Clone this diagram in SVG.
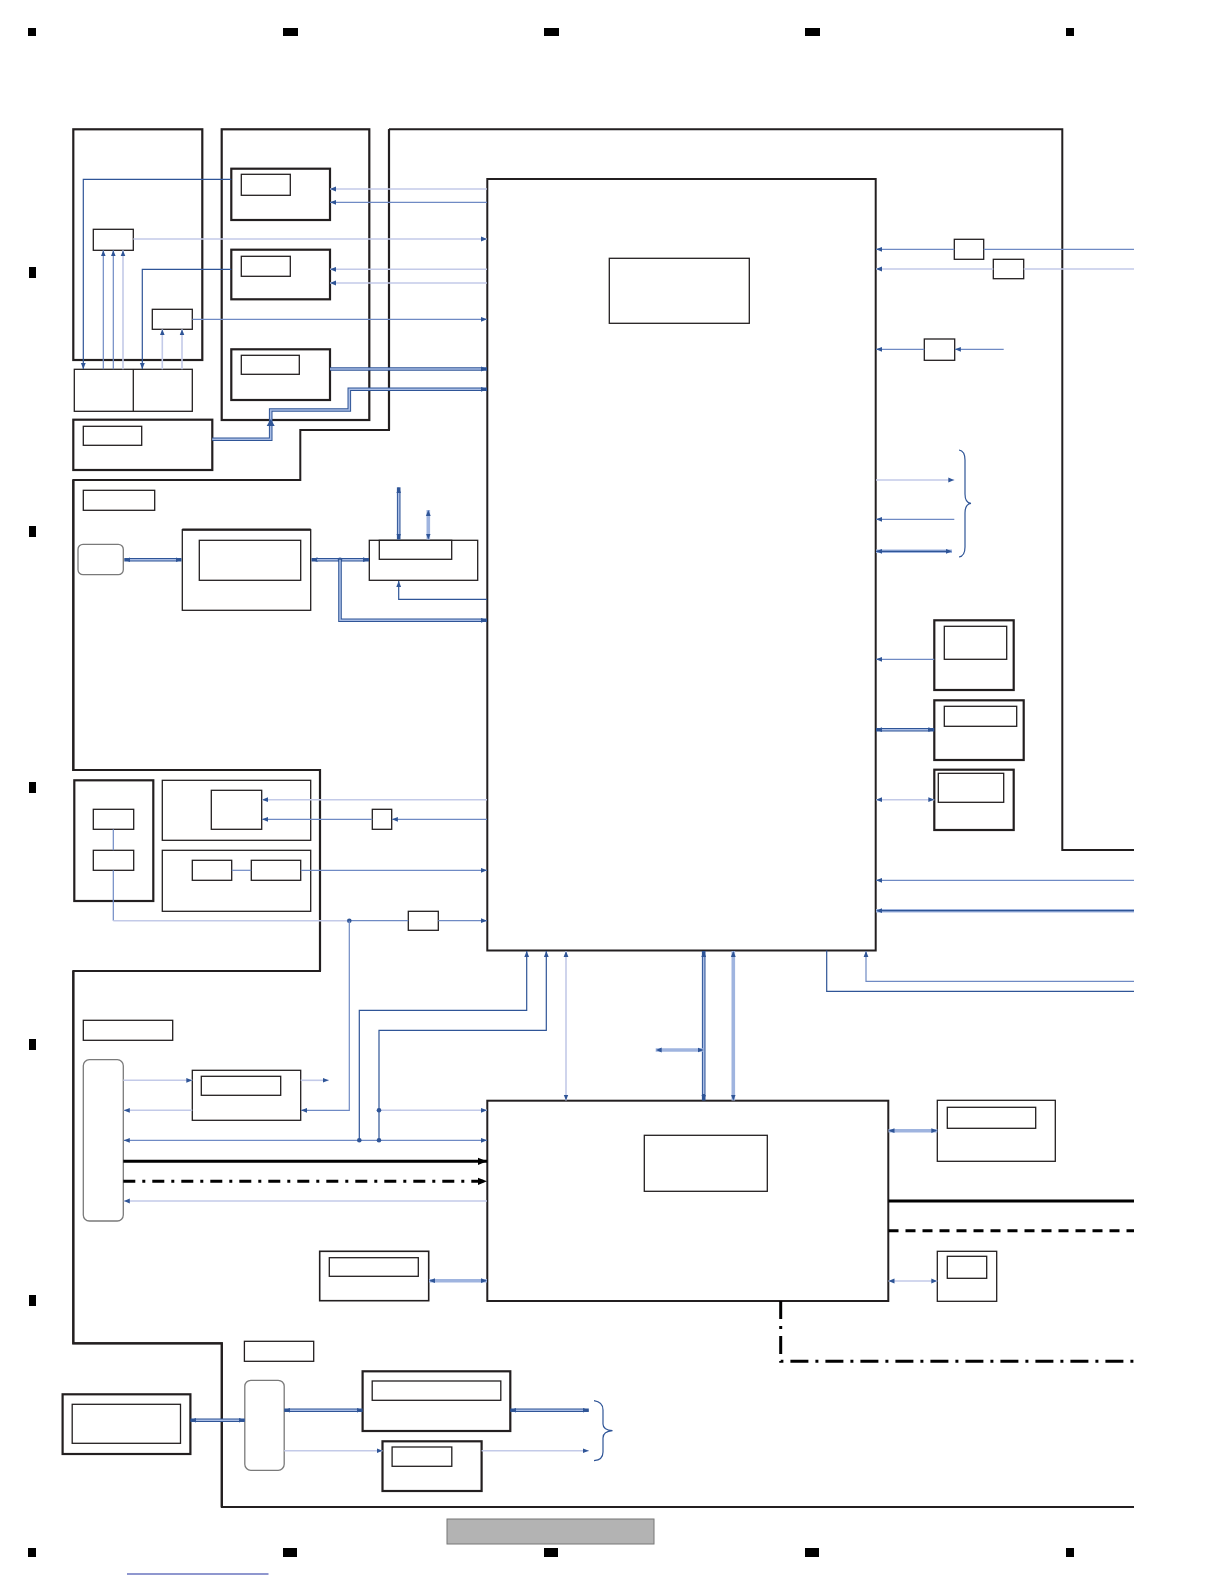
<svg xmlns="http://www.w3.org/2000/svg" width="1224" height="1584" viewBox="0 0 1224 1584">
<style>
.k{fill:none;stroke:#231f20;stroke-width:2.2}
.t{fill:none;stroke:#231f20;stroke-width:1.3}
.r{fill:none;stroke:#7a7a7a;stroke-width:1.3}
.o{fill:none;stroke:#231f20;stroke-width:2}
.d{fill:none;stroke:#2f5597;stroke-width:1.2}
.m{fill:none;stroke:#6f8ac4;stroke-width:1.2}
.l{fill:none;stroke:#c3cae8;stroke-width:1.6}
.w1{fill:none;stroke:#2f5597;stroke-width:3.6}
.w2{fill:none;stroke:#a9bde5;stroke-width:1.6}
.bk{fill:none;stroke:#000;stroke-width:3}
.mk{fill:#000}
.dot{fill:#2f5597}
.brace{fill:none;stroke:#2f5597;stroke-width:1.2}
</style>
<defs>
<marker id="a" viewBox="0 0 10 10" refX="10" refY="5" markerWidth="6" markerHeight="6" markerUnits="userSpaceOnUse" orient="auto-start-reverse"><path d="M0,1 L10,5 L0,9 z" fill="#2f5597"/></marker>
<marker id="ab" viewBox="0 0 10 10" refX="10" refY="5" markerWidth="9" markerHeight="9" markerUnits="userSpaceOnUse" orient="auto"><path d="M0,1 L10,5 L0,9 z" fill="#000"/></marker>
</defs>
<rect width="1224" height="1584" fill="#fff"/>

<g id="frame-marks">
<rect class="mk" x="28" y="28" width="8" height="8"/>
<rect class="mk" x="283" y="28" width="15" height="8"/>
<rect class="mk" x="544" y="28" width="15" height="8"/>
<rect class="mk" x="805" y="28" width="15" height="8"/>
<rect class="mk" x="1066" y="28" width="8" height="8"/>
<rect class="mk" x="29" y="267" width="7" height="11"/>
<rect class="mk" x="29" y="526" width="7" height="11"/>
<rect class="mk" x="29" y="782" width="7" height="11"/>
<rect class="mk" x="29" y="1039" width="7" height="11"/>
<rect class="mk" x="29" y="1295" width="7" height="11"/>
<rect class="mk" x="28" y="1548" width="8" height="9"/>
<rect class="mk" x="283" y="1548" width="14" height="9"/>
<rect class="mk" x="544" y="1548" width="14" height="9"/>
<rect class="mk" x="805" y="1548" width="14" height="9"/>
<rect class="mk" x="1066" y="1548" width="8" height="9"/>
<rect x="447" y="1519" width="207" height="25" fill="#b3b3b3" stroke="#777" stroke-width="1"/>
<line x1="127" y1="1574" x2="268.5" y2="1574" stroke="#2030a0" stroke-width="1.2"/>
</g>

<g id="outlines">
<path class="o" d="M389,129.3 H1062.3 V850 H1134"/>
<path class="o" d="M389,129.3 V430 H300.3 V480 H73.3 V770 H320 V971 H73.3 V1343.3 H221.8 V1507 H1134"/>
<path class="k" d="M389,129.3 V430 M73.3,480 V770 H320 V971 M73.3,971 V1343.3 H221.8 V1507"/>
</g>

<g id="node-a">
<rect class="k" x="73.3" y="129.3" width="129" height="230.7"/>
<rect class="t" x="93.3" y="229.3" width="40" height="21"/>
<rect class="t" x="152.3" y="309.3" width="40" height="20"/>
</g>
<g id="node-a-bottom">
<rect class="t" x="74.3" y="369.3" width="118" height="42"/>
<line class="t" x1="133.3" y1="369.3" x2="133.3" y2="411.3"/>
</g>
<g id="node-c">
<rect class="k" x="73.3" y="419.7" width="139" height="50.3"/>
<rect class="t" x="83.3" y="426.3" width="58.4" height="19"/>
</g>
<g id="node-b">
<rect class="k" x="221.7" y="129.3" width="147.6" height="290.7"/>
<rect class="k" x="231.3" y="168.7" width="98.7" height="51.3"/>
<rect class="t" x="241.3" y="174.3" width="49" height="21"/>
<rect class="k" x="231.3" y="249.7" width="98.7" height="49.6"/>
<rect class="t" x="241.3" y="256.3" width="49" height="20"/>
<rect class="k" x="231.3" y="349.3" width="98.7" height="50.7"/>
<rect class="t" x="241.3" y="355.3" width="58" height="19"/>
</g>

<g id="node-chip1">
<rect class="o" x="487.3" y="179" width="388.4" height="771.5"/>
<rect class="t" x="609.3" y="258.3" width="140" height="65"/>
</g>

<g id="node-d">
<rect class="t" x="83.3" y="490.3" width="71.4" height="20"/>
<rect class="r" x="78" y="544.3" width="45.3" height="30.4" rx="5"/>
<rect class="t" x="182.3" y="529.7" width="128.4" height="80.6"/>
<line class="k" x1="182.3" y1="529.7" x2="310.7" y2="529.7"/>
<rect class="t" x="199.3" y="540.3" width="101.4" height="40"/>
<rect class="t" x="369.3" y="540.3" width="108.4" height="40"/>
<rect class="t" x="379.3" y="540.3" width="72.4" height="19"/>
</g>

<g id="node-g">
<rect class="k" x="74.3" y="780.3" width="79" height="120.7"/>
<rect class="t" x="93.3" y="809.3" width="40.4" height="20"/>
<rect class="t" x="93.3" y="850.3" width="40.4" height="20"/>
</g>
<g id="node-i">
<rect class="t" x="162.3" y="780.3" width="148.4" height="60"/>
<rect class="t" x="211.3" y="790.3" width="50.4" height="39"/>
<rect class="t" x="372.3" y="809.3" width="19.4" height="20"/>
</g>
<g id="node-j">
<rect class="t" x="162.3" y="850.3" width="148.4" height="61"/>
<rect class="t" x="192.3" y="860.3" width="39.4" height="20"/>
<rect class="t" x="251.3" y="860.3" width="49.4" height="20"/>
<rect class="t" x="408.3" y="911.3" width="30" height="19"/>
</g>

<g id="node-k">
<rect class="t" x="83.3" y="1020.3" width="89.4" height="20"/>
<rect class="r" x="83.3" y="1059.7" width="40" height="161.3" rx="6"/>
<rect class="t" x="192.3" y="1070.3" width="108.4" height="50"/>
<rect class="t" x="201.3" y="1076.3" width="79.4" height="19"/>
<rect class="t" x="319.7" y="1251.3" width="109" height="49.4" style="stroke-width:1.6"/>
<rect class="t" x="329.3" y="1257.7" width="89" height="18.6"/>
</g>

<g id="node-chip2">
<rect class="o" x="487.3" y="1100.7" width="401" height="200.3"/>
<rect class="t" x="644.3" y="1135.3" width="123" height="56"/>
</g>

<g id="node-right">
<rect class="t" x="954.3" y="239.3" width="29.4" height="20"/>
<rect class="t" x="993.3" y="259.3" width="30.4" height="19.4"/>
<rect class="t" x="924.3" y="339" width="30.4" height="21.3"/>
<rect class="k" x="934.3" y="620.3" width="79.4" height="69.7"/>
<rect class="t" x="944.3" y="626.3" width="62.4" height="33"/>
<rect class="k" x="934.3" y="700.3" width="89.4" height="59.7"/>
<rect class="t" x="944.3" y="706.3" width="72.4" height="20"/>
<rect class="k" x="934.3" y="769.7" width="79.4" height="60.3"/>
<rect class="t" x="938.3" y="773.3" width="65.4" height="29"/>
<rect class="t" x="937.3" y="1100.3" width="118" height="61"/>
<rect class="t" x="947.3" y="1107.3" width="88.4" height="21"/>
<rect class="t" x="937.3" y="1251.3" width="59.4" height="50"/>
<rect class="t" x="947.3" y="1256.3" width="39.4" height="22"/>
</g>

<g id="node-bottom">
<rect class="t" x="244.4" y="1341.3" width="69.3" height="20"/>
<rect class="k" x="62.6" y="1394.3" width="127.8" height="59.7"/>
<rect class="t" x="72.2" y="1404.3" width="108.3" height="39"/>
<rect class="r" x="244.8" y="1380.3" width="39.4" height="90" rx="6"/>
<rect class="k" x="362.6" y="1371.3" width="147.7" height="59.7"/>
<rect class="t" x="372.2" y="1381" width="128.6" height="19.3"/>
<rect class="k" x="382.5" y="1441.3" width="99.1" height="49.7"/>
<rect class="t" x="392.1" y="1447" width="59.7" height="19.3"/>
</g>

<g id="connectors">
<!-- top-left section -->
<path class="d" d="M231.3,179.3 H83.3 V369" marker-end="url(#a)"/>
<path class="d" d="M231.3,269.3 H142.3 V369" marker-end="url(#a)"/>
<path class="l" d="M133.3,239 H487" marker-end="url(#a)"/>
<path class="m" d="M103.3,369.3 V250.3" marker-end="url(#a)"/>
<path class="m" d="M113.3,369.3 V250.3" marker-end="url(#a)"/>
<path class="l" d="M123,369.3 V250.3" marker-end="url(#a)"/>
<path class="l" d="M162.3,369.3 V329.3" marker-end="url(#a)"/>
<path class="l" d="M182,369.3 V329.3" marker-end="url(#a)"/>
<path class="m" d="M192.3,319.3 H487" marker-end="url(#a)"/>
<path class="l" d="M487,189 H330" marker-end="url(#a)"/>
<path class="m" d="M487,202.3 H330" marker-end="url(#a)"/>
<path class="l" d="M487,269.3 H330" marker-end="url(#a)"/>
<path class="l" d="M487,283 H330" marker-end="url(#a)"/>
<path class="w1" d="M330,369 H487" marker-end="url(#a)"/>
<path class="w2" d="M330,369 H481"/>
<path class="w1" d="M212.3,439.3 H270.7 V410 H349.3 V389.3 H487" marker-end="url(#a)"/>
<path class="w2" d="M212.3,439.3 H270.7 V410 H349.3 V389.3 H481"/>
<path d="M266.7,426 L270.7,419 L274.7,426 z" fill="#2f5597"/>

<!-- section D -->
<path class="w1" d="M124.3,559.7 H181.5" marker-start="url(#a)" marker-end="url(#a)"/>
<path class="w2" d="M130,559.7 H176"/>
<path class="w1" d="M311.5,559.7 H369" marker-start="url(#a)" marker-end="url(#a)"/>
<path class="w2" d="M317,559.7 H363"/>
<circle class="dot" cx="340" cy="559.7" r="2.3"/>
<path class="w1" d="M340,559.7 V620.3 H487" marker-end="url(#a)"/>
<path class="w2" d="M340,559.7 V620.3 H481"/>
<path class="w1" d="M398.7,487.3 V539.5" marker-start="url(#a)" marker-end="url(#a)"/>
<path class="w2" d="M398.7,493 V534"/>
<path class="w1" d="M428.3,510 V539.5" marker-start="url(#a)" marker-end="url(#a)" style="stroke:#9fb4df"/>
<path class="d" d="M487,599.3 H398.7 V581" marker-end="url(#a)"/>

<!-- section G/I/J -->
<path class="m" d="M113.3,829.3 V850.3"/>
<path class="m" d="M231.7,870.3 H251.3"/>
<path class="m" d="M300.7,870.3 H487" marker-end="url(#a)"/>
<path class="l" d="M487,799.7 H262" marker-end="url(#a)"/>
<path class="m" d="M487,819.3 H391.9" marker-end="url(#a)"/>
<path class="m" d="M372.3,819.3 H262" marker-end="url(#a)"/>
<path class="m" d="M113.3,870.3 V920.7"/>
<path class="l" d="M113.3,920.7 H349.3"/>
<path class="m" d="M349.3,920.7 H408.3"/>
<path class="m" d="M438.3,920.7 H487" marker-end="url(#a)"/>
<circle class="dot" cx="349.3" cy="920.7" r="2.3"/>
<path class="m" d="M349.3,920.7 V1110.3 H301" marker-end="url(#a)"/>

<!-- chip1 bottom -->
<path class="d" d="M359.3,1140.3 V1010.3 H526.7 V951" marker-end="url(#a)"/>
<path class="d" d="M379,1140.3 V1030.3 H546.3 V951" marker-end="url(#a)"/>
<path class="l" d="M566,951 V1100.5" marker-start="url(#a)" marker-end="url(#a)"/>
<path class="w1" d="M703.7,951 V1100.5" marker-start="url(#a)" marker-end="url(#a)"/>
<path class="w2" d="M703.7,957 V1094"/>
<path class="w1" d="M733.3,951 V1100.5" marker-start="url(#a)" marker-end="url(#a)" style="stroke:#9fb4df"/>
<path class="w1" d="M703.7,1050 H655.7" marker-start="url(#a)" marker-end="url(#a)" style="stroke:#9fb4df"/>
<path class="d" d="M826.7,950.5 V991.3 H1134"/>
<path class="m" d="M1134,981.3 H866 V951" marker-end="url(#a)"/>

<!-- left of chip2 -->
<path class="l" d="M123.3,1080.3 H192.3" marker-end="url(#a)"/>
<path class="l" d="M300.7,1080.3 H328.7" marker-end="url(#a)"/>
<path class="l" d="M192.3,1110.3 H123.8" marker-end="url(#a)"/>
<path class="l" d="M379,1110.3 H487" marker-end="url(#a)"/>
<path class="m" d="M123.8,1140.3 H487" marker-start="url(#a)" marker-end="url(#a)"/>
<circle class="dot" cx="359.3" cy="1140.3" r="2.3"/>
<circle class="dot" cx="379" cy="1140.3" r="2.3"/>
<circle class="dot" cx="379" cy="1110.3" r="2.3"/>
<path class="bk" d="M123.3,1161.3 H487" marker-end="url(#ab)"/>
<path class="bk" d="M123.3,1181.3 H487" stroke-dasharray="12 7 3 7" marker-end="url(#ab)"/>
<path class="l" d="M487,1201 H123.8" marker-end="url(#a)"/>
<path class="w1" d="M429,1280.7 H487" marker-start="url(#a)" marker-end="url(#a)" style="stroke:#9fb4df"/>

<!-- right of chip2 -->
<path class="w1" d="M888.5,1130.7 H937.3" marker-start="url(#a)" marker-end="url(#a)" style="stroke:#9fb4df"/>
<path class="l" d="M888.5,1281 H937.3" marker-start="url(#a)" marker-end="url(#a)"/>
<path class="bk" d="M888.5,1201 H1134"/>
<path class="bk" d="M888.5,1230.7 H1134" stroke-dasharray="10 7"/>
<path class="bk" d="M780.7,1301 V1361.3 H1134" stroke-dasharray="18 7 3 7"/>

<!-- right of chip1 -->
<path class="m" d="M1134,249.3 H983.7"/>
<path class="m" d="M954.3,249.3 H876" marker-end="url(#a)"/>
<path class="l" d="M1134,269 H1023.7"/>
<path class="l" d="M993.3,269 H876" marker-end="url(#a)"/>
<path class="m" d="M1003.7,349.3 H954.9" marker-end="url(#a)"/>
<path class="m" d="M924.3,349.3 H876" marker-end="url(#a)"/>
<path class="l" d="M876,480 H954.3" marker-end="url(#a)"/>
<path class="m" d="M954.3,519.3 H876" marker-end="url(#a)"/>
<path class="w1" d="M876,551.3 H952" marker-start="url(#a)" marker-end="url(#a)" style="stroke:#9fb4df"/>
<path class="d" d="M876,551.3 H946"/>
<path class="brace" d="M959,450 Q965,451 965,460 V494 Q965,503 971,503.3 Q965,504 965,513 V547 Q965,556 959,557"/>
<path class="m" d="M934.3,659.3 H876" marker-end="url(#a)"/>
<path class="w1" d="M876,729.7 H934.3" marker-start="url(#a)" marker-end="url(#a)"/>
<path class="w2" d="M882,729.7 H928"/>
<path class="l" d="M876,799.7 H934.3" marker-start="url(#a)" marker-end="url(#a)"/>
<path class="m" d="M1134,880.3 H876" marker-end="url(#a)"/>
<path class="w1" d="M1134,910.7 H876" marker-end="url(#a)" style="stroke:#9fb4df"/>
<path class="d" d="M1134,910.7 H882"/>

<!-- bottom section -->
<path class="w1" d="M190.4,1420.3 H244.8" marker-start="url(#a)" marker-end="url(#a)"/>
<path class="w2" d="M196,1420.3 H239"/>
<path class="w1" d="M284.2,1410.3 H362.6" marker-start="url(#a)" marker-end="url(#a)"/>
<path class="w2" d="M290,1410.3 H357"/>
<path class="w1" d="M510.3,1410.3 H588.8" marker-start="url(#a)" marker-end="url(#a)"/>
<path class="w2" d="M516,1410.3 H583"/>
<path class="l" d="M284.2,1450.7 H382.5" marker-end="url(#a)"/>
<path class="l" d="M481.6,1450.7 H588.8" marker-end="url(#a)"/>
<path class="brace" d="M594,1400.7 Q603,1402 603,1410 V1424 Q603,1430 612.5,1430.7 Q603,1431.5 603,1438 V1452 Q603,1460 594,1460.7"/>
</g>
</svg>
